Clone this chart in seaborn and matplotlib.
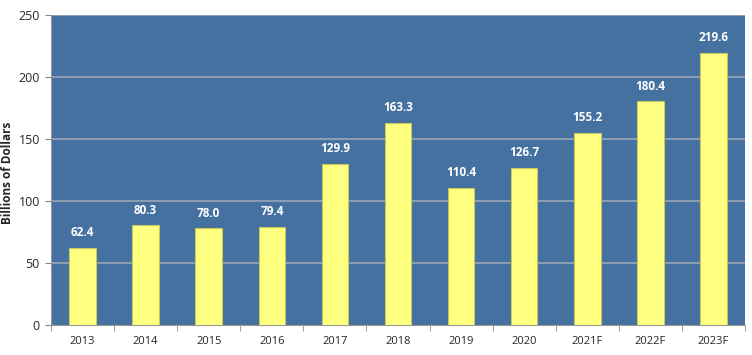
import matplotlib
matplotlib.use("Agg")
import matplotlib.pyplot as plt
import seaborn as sns
import pandas as pd

years = ["2013", "2014", "2015", "2016", "2017", "2018", "2019", "2020", "2021F", "2022F", "2023F"]
values = [62.4, 80.3, 78.0, 79.4, 129.9, 163.3, 110.4, 126.7, 155.2, 180.4, 219.6]
y_ticks = [0, 50, 100, 150, 200, 250]

df = pd.DataFrame({"year": years, "value": values})

sns.set_style("white")
plt.rcParams['font.family'] = ['Open Sans', 'DejaVu Sans']

fig = plt.figure(figsize=(7.52, 3.55), dpi=100)
ax = fig.add_axes([51/752, 30/355, 694/752, 310/355])
ax.set_facecolor("#4571A0")

sns.barplot(data=df, x="year", y="value", ax=ax, color="#FFFF80", width=0.42,
            edgecolor="#C8C860", linewidth=0.8, saturation=1, zorder=3)

ax.set_ylim(0, 250)
ax.set_xlim(-0.5, len(years) - 0.5)
ax.set_yticks(y_ticks)
for t in y_ticks[1:]:
    ax.axhline(t, color="#9AA6B4", lw=1.2, zorder=1)

for i, v in enumerate(values):
    ax.text(i, v + 7, f"{v:.1f}", ha="center", va="bottom", color="white",
            fontsize=8.5, fontweight="bold", zorder=4)

ax.set_xlabel("")
ax.set_ylabel("")
fig.text(8/752, 0.5 + 5/355, "Billions of Dollars", rotation=90, ha="center", va="center",
         fontsize=8.5, fontweight="bold")
ax.tick_params(axis="y", labelsize=9, length=4, color="#888888", direction="out", left=True, pad=4)
ax.tick_params(axis="x", labelsize=8, length=0, pad=8)
ax.set_xticks(range(len(years)))
ax.set_xticklabels(years)
ax.set_xticks([i - 0.5 for i in range(len(years) + 1)], minor=True)
ax.tick_params(axis="x", which="minor", length=4, color="#888888", direction="out", bottom=True)

for s in ["top", "right"]:
    ax.spines[s].set_visible(False)
ax.spines["left"].set_color("#999999")
ax.spines["bottom"].set_color("#999999")

fig.savefig("out.png", dpi=100)
